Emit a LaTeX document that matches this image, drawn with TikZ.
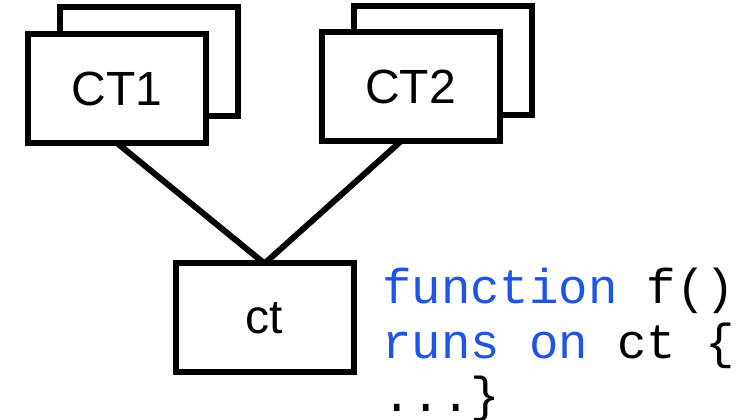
\documentclass[tikz,border=0pt]{standalone}
\usepackage{fontspec}
\setmainfont{Liberation Sans}
\newfontfamily\codefont{Liberation Mono}
\definecolor{kwblue}{RGB}{30,85,230}
\begin{document}
\begin{tikzpicture}[x=0.75pt,y=-0.75pt,
  box/.style={draw=black,line width=4.5pt,fill=white,minimum width=133.5pt,minimum height=81.75pt,inner sep=0pt,outer sep=0pt,font=\fontsize{36}{40}\selectfont},
  conn/.style={line width=4.5pt},
  code/.style={anchor=base west,inner sep=0pt,font=\codefont\fontsize{36.75}{41}\selectfont}]
\useasboundingbox (0,0) rectangle (754,420);
% back boxes
\node[box] (ct1b) at (149,61.5) {};
\node[box] (ct2b) at (442.5,61) {};
% front boxes
\node[box] (ct1) at (117,88.5) {CT1};
\node[box] (ct2) at (410.5,86.5) {CT2};
\node[box] (ct) at (264.5,318) {ct};
% connectors
\draw[conn] (ct1.south) -- (ct.north);
\draw[conn] ([xshift=-7pt]ct2.south) -- (ct.north);
% code
\node[code] (code1) at (382,304) {\textcolor{kwblue}{function} f()};
\node[code] (code2) at (382,359) {\textcolor{kwblue}{runs on} ct \{};
\node[code] (code3) at (382,412) {...\}};
\end{tikzpicture}
\end{document}
